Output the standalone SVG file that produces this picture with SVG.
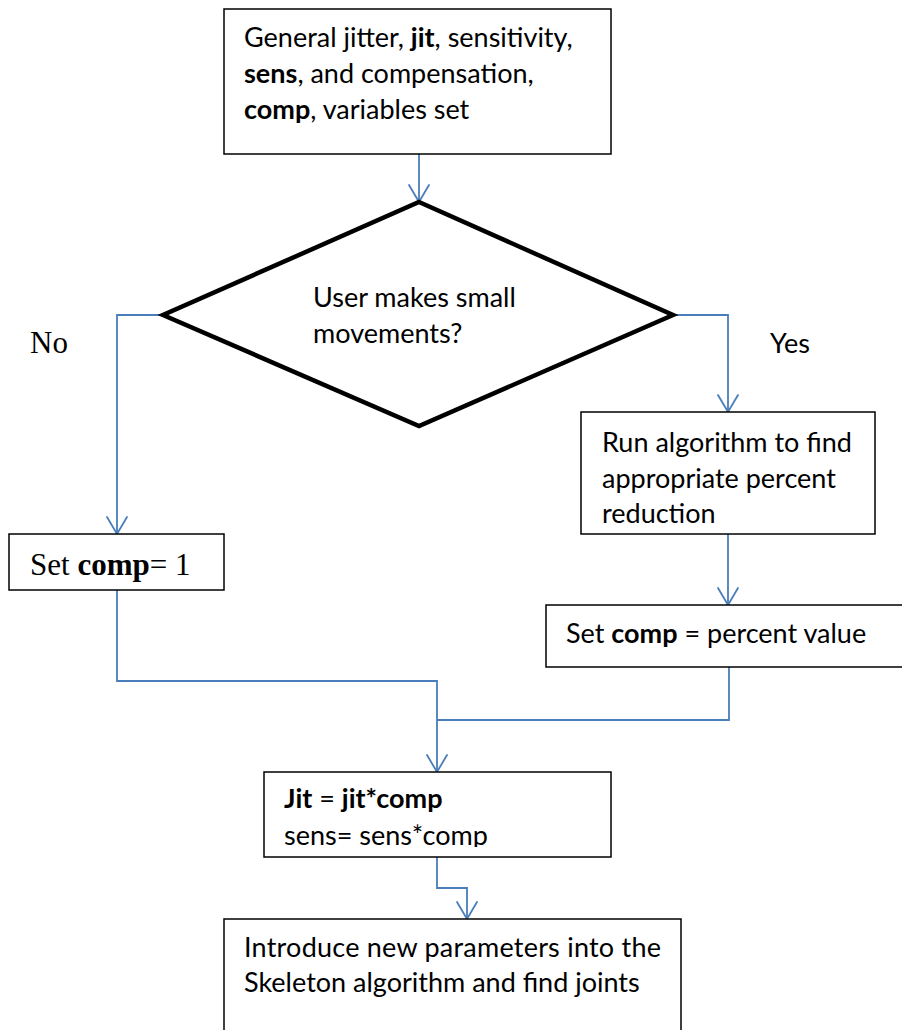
<svg xmlns="http://www.w3.org/2000/svg" width="902" height="1030" viewBox="0 0 902 1030">
  <defs>
    <style>
      .box { fill: #ffffff; stroke: #000000; stroke-width: 1.5; }
      .dec { fill: #ffffff; stroke: #000000; stroke-width: 4.5; stroke-linejoin: miter; }
      .conn { fill: none; stroke: #4a7ebb; stroke-width: 1.8; }
      .arrow { fill: none; stroke: #4a7ebb; stroke-width: 1.8; stroke-linecap: round; }
      .sans { font-family: Lato, "Open Sans", sans-serif; font-size: 27px; fill: #000000; }
      .serif { font-family: "Liberation Serif", "Times New Roman", serif; font-size: 31px; fill: #000000; }
      .b { font-weight: bold; }
    </style>
    <clipPath id="jitClip">
      <rect x="264" y="772" width="347" height="75"/>
    </clipPath>
  </defs>

  <!-- connectors -->
  <g id="connectors">
    <path class="conn" d="M419,154 V202"/>
    <path class="arrow" d="M409,185 L419,202 L429,185"/>

    <path class="conn" d="M163,315 H117 V534"/>
    <path class="arrow" d="M107,517 L117,534 L127,517"/>

    <path class="conn" d="M673,315 H728 V412"/>
    <path class="arrow" d="M718,395 L728,412 L738,395"/>

    <path class="conn" d="M728,534 V605"/>
    <path class="arrow" d="M718,588 L728,605 L738,588"/>

    <path class="conn" d="M117,590 V681 H437 V772"/>
    <path class="conn" d="M729,667 V720 H437"/>
    <path class="arrow" d="M427,755 L437,772 L447,755"/>

    <path class="conn" d="M437,857 V888 H467 V919"/>
    <path class="arrow" d="M457,902 L467,919 L477,902"/>
  </g>

  <!-- start box -->
  <g id="node-start">
    <rect class="box" x="224" y="9" width="387" height="145"/>
    <text class="sans" x="244" y="47">General jitter, <tspan class="b">jit</tspan>, sensitivity,</text>
    <text class="sans" x="244" y="83"><tspan class="b">sens</tspan>, and compensation,</text>
    <text class="sans" x="244" y="119"><tspan class="b">comp</tspan>, variables set</text>
  </g>

  <!-- decision -->
  <g id="node-decision">
    <polygon class="dec" points="419,202 673,315 419,426 163,315"/>
    <text class="sans" x="313" y="307">User makes small</text>
    <text class="sans" x="313" y="343">movements?</text>
  </g>

  <!-- branch labels -->
  <g id="labels">
    <text class="serif" x="30" y="353">No</text>
    <text class="sans" x="770" y="353">Yes</text>
  </g>

  <!-- no branch -->
  <g id="node-comp-one">
    <rect class="box" x="9" y="534" width="215" height="56"/>
    <text class="serif" x="30" y="575">Set <tspan class="b">comp</tspan>= 1</text>
  </g>

  <!-- yes branch -->
  <g id="node-run-algorithm">
    <rect class="box" x="581" y="412" width="294" height="122"/>
    <text class="sans" x="602" y="452">Run algorithm to find</text>
    <text class="sans" x="602" y="488">appropriate percent</text>
    <text class="sans" x="602" y="523">reduction</text>
  </g>

  <g id="node-comp-percent">
    <rect class="box" x="546" y="605" width="370" height="62"/>
    <text class="sans" x="566" y="643">Set <tspan class="b">comp</tspan> = percent value</text>
  </g>

  <!-- apply compensation -->
  <g id="node-apply">
    <rect class="box" x="264" y="772" width="347" height="85"/>
    <g clip-path="url(#jitClip)">
      <text class="sans" x="284" y="808"><tspan class="b">Jit</tspan> = <tspan class="b">jit*comp</tspan></text>
      <text class="sans" x="284" y="845">sens= sens*comp</text>
    </g>
  </g>

  <!-- final step -->
  <g id="node-skeleton">
    <path class="box" d="M224,1040 V919 H681 V1040"/>
    <text class="sans" x="244" y="957" textLength="417" lengthAdjust="spacing">Introduce new parameters into the</text>
    <text class="sans" x="244" y="992">Skeleton algorithm and find joints</text>
  </g>
</svg>
